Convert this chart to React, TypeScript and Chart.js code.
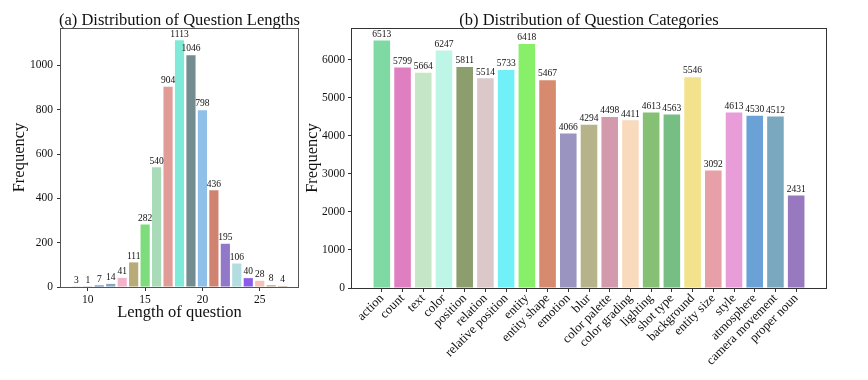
import React, { useEffect, useRef } from 'react';
import { Chart, registerables } from 'chart.js';

Chart.register(...registerables);

const FONT = "'Liberation Serif', 'Times New Roman', serif";

// (a) Question lengths
const lengthValues = [9, 10, 11, 12, 13, 14, 15, 16, 17, 18, 19, 20, 21, 22, 23, 24, 25, 26, 27];
const lengthCounts = [3, 1, 7, 14, 41, 111, 282, 540, 904, 1113, 1046, 798, 436, 195, 106, 40, 28, 8, 4];
const lengthColors = [
  '#a0a0c0', '#9aa0b0', '#5b7fb0', '#8aa4c0', '#f2b2cc', '#b8ab78', '#7ddc7c', '#a9dbb8', '#e19c98',
  '#80ead9', '#738c90', '#8fc0ea', '#d08370', '#9178c8', '#b3dde0', '#8a5ce8', '#f6c2b6', '#c0a880', '#a08070',
];
const lengthXTicks = [10, 15, 20, 25];
const lengthYTicks = [0, 200, 400, 600, 800, 1000];

// (b) Question categories
const categories = [
  'action', 'count', 'text', 'color', 'position', 'relation', 'relative position', 'entity', 'entity shape',
  'emotion', 'blur', 'color palette', 'color grading', 'lighting', 'shot type', 'background', 'entity size',
  'style', 'atmosphere', 'camera movement', 'proper noun',
];
const categoryCounts = [
  6513, 5799, 5664, 6247, 5811, 5514, 5733, 6418, 5467, 4066, 4294, 4498, 4411, 4613, 4563, 5546, 3092,
  4613, 4530, 4512, 2431,
];
const categoryColors = [
  '#7fd9a2', '#df7ec0', '#c6e6c8', '#bdf6e6', '#8c9e6e', '#dac9c8', '#72f0f8', '#88f068', '#d68a6e',
  '#9a94c0', '#b6b28a', '#d29aac', '#f9dabd', '#86c074', '#76be84', '#f2e28c', '#e8a0a8', '#e89cd8',
  '#6aa2d8', '#7aa8be', '#9878be',
];
const categoryYTicks = [0, 1000, 2000, 3000, 4000, 5000, 6000];

function decorPlugin(title: string, frameColor: string) {
  return {
    id: 'decor',
    afterDatasetsDraw(chart: any) {
      const ctx = chart.ctx;
      const meta = chart.getDatasetMeta(0);
      const data = chart.data.datasets[0].data as any[];
      ctx.save();
      ctx.font = `9.5px ${FONT}`;
      ctx.fillStyle = '#111';
      ctx.textAlign = 'center';
      ctx.textBaseline = 'bottom';
      meta.data.forEach((el: any, i: number) => {
        ctx.fillText(String(data[i].y), el.x, el.y - 1.5);
      });
      ctx.restore();
    },
    afterDraw(chart: any) {
      const ctx = chart.ctx;
      const a = chart.chartArea;
      ctx.save();
      ctx.strokeStyle = frameColor;
      ctx.lineWidth = 1;
      ctx.strokeRect(Math.round(a.left) - 0.5, Math.round(a.top) + 0.5, Math.round(a.right - a.left) + 1, Math.round(a.bottom - a.top));
      ctx.font = `16.5px ${FONT}`;
      ctx.fillStyle = '#111';
      ctx.textAlign = 'center';
      ctx.textBaseline = 'alphabetic';
      ctx.fillText(title, (a.left + a.right) / 2, 25);
      ctx.restore();
    },
  };
}

function makeChart(
  canvas: HTMLCanvasElement,
  opts: {
    xs: number[];
    ys: number[];
    colors: string[];
    xMin: number;
    xMax: number;
    xTicks: number[];
    xLabel: (v: number) => string;
    yMax: number;
    yTicks: number[];
    yWidth: number;
    xHeight: number;
    padRight: number;
    title: string;
    xTitle: string | null;
    yTitlePad: number;
    xTickFont: number;
    rotate: boolean;
    frameColor: string;
    tickPadY: number;
  }
) {
  return new Chart(canvas, {
    type: 'bar',
    data: {
      datasets: [
        {
          data: opts.xs.map((x, i) => ({ x, y: opts.ys[i] })),
          backgroundColor: opts.colors,
          borderWidth: 0,
          categoryPercentage: 1,
          barPercentage: 0.8,
        },
      ],
    },
    options: {
      animation: false,
      responsive: false,
      maintainAspectRatio: false,
      layout: { padding: { left: 0, top: 28, right: opts.padRight, bottom: 0 } },
      plugins: { legend: { display: false }, tooltip: { enabled: false }, title: { display: false } },
      scales: {
        x: {
          type: 'linear',
          min: opts.xMin,
          max: opts.xMax,
          offset: false,
          afterBuildTicks: (s: any) => {
            s.ticks = opts.xTicks.map((v) => ({ value: v }));
          },
          afterFit: (s: any) => {
            s.height = opts.xHeight;
          },
          grid: { drawOnChartArea: false, drawTicks: true, tickLength: 4, color: '#333', offset: false },
          border: { display: false },
          ticks: {
            autoSkip: false,
            minRotation: opts.rotate ? 45 : 0,
            maxRotation: opts.rotate ? 45 : 0,
            padding: opts.rotate ? -1 : 2,
            color: '#111',
            font: { family: FONT, size: opts.xTickFont },
            callback: (v: any) => opts.xLabel(Number(v)),
          },
          title: opts.xTitle
            ? {
                display: true,
                text: opts.xTitle,
                color: '#111',
                font: { family: FONT, size: 16.5 },
                padding: { top: 0, bottom: 57 },
              }
            : { display: false },
        },
        y: {
          type: 'linear',
          min: 0,
          max: opts.yMax,
          afterBuildTicks: (s: any) => {
            s.ticks = opts.yTicks.map((v) => ({ value: v }));
          },
          afterFit: (s: any) => {
            s.width = opts.yWidth;
          },
          grid: { drawOnChartArea: false, drawTicks: true, tickLength: 4, color: '#333' },
          border: { display: false },
          ticks: {
            padding: opts.tickPadY,
            color: '#111',
            font: { family: FONT, size: 11.5 },
            callback: (v: any) => String(v),
          },
          title: {
            display: true,
            text: 'Frequency',
            color: '#111',
            font: { family: FONT, size: 16.5 },
            padding: { top: opts.yTitlePad, bottom: 0 },
          },
        },
      },
    } as any,
    plugins: [decorPlugin(opts.title, opts.frameColor)],
  });
}

export default function App() {
  const leftRef = useRef<HTMLCanvasElement>(null);
  const rightRef = useRef<HTMLCanvasElement>(null);

  useEffect(() => {
    const c1 = makeChart(leftRef.current!, {
      xs: lengthValues,
      ys: lengthCounts,
      colors: lengthColors,
      xMin: 7.66,
      xMax: 28.34,
      xTicks: lengthXTicks,
      xLabel: (v) => String(v),
      yMax: 1168.6,
      yTicks: lengthYTicks,
      yWidth: 61,
      xHeight: 380 - 287,
      padRight: 2,
      title: '(a) Distribution of Question Lengths',
      xTitle: 'Length of question',
      yTitlePad: 10,
      xTickFont: 11.5,
      rotate: false,
      frameColor: '#555',
      tickPadY: 4,
    });
    const c2 = makeChart(rightRef.current!, {
      xs: categories.map((_, i) => i),
      ys: categoryCounts,
      colors: categoryColors,
      xMin: -1.44,
      xMax: 21.44,
      xTicks: categories.map((_, i) => i),
      xLabel: (v) => categories[v] ?? '',
      yMax: 6838.65,
      yTicks: categoryYTicks,
      yWidth: 52,
      xHeight: 380 - 288,
      padRight: 42,
      title: '(b) Distribution of Question Categories',
      xTitle: null,
      yTitlePad: 2.6,
      xTickFont: 12.8,
      rotate: true,
      frameColor: '#333',
      tickPadY: 3,
    });
    return () => {
      c1.destroy();
      c2.destroy();
    };
  }, []);

  return (
    <div style={{ position: 'fixed', left: 0, top: 0, width: 868, height: 380, background: '#fff' }}>
      <canvas ref={leftRef} width={300} height={380} style={{ position: 'absolute', left: 0, top: 0, width: 300, height: 380 }} />
      <canvas ref={rightRef} width={568} height={380} style={{ position: 'absolute', left: 300, top: 0, width: 568, height: 380 }} />
    </div>
  );
}
